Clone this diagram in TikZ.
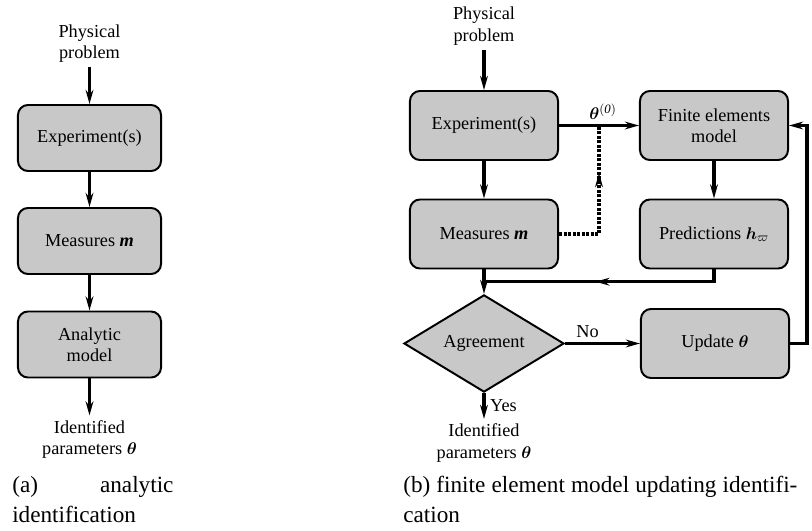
\documentclass[tikz,border=0pt]{standalone}
\usepackage{fontspec}
\setmainfont{Liberation Serif}
\usepackage{amsmath}
\usepackage{bm}
\usetikzlibrary{arrows.meta,shapes.geometric,calc,decorations.markings}
\definecolor{boxgray}{RGB}{200,200,200}

\begin{document}
\begin{tikzpicture}[x=0.025cm, y=-0.025cm,
    >={Stealth[length=10pt,width=5.5pt]},
    txt/.style={font=\fontsize{13}{15.2}\selectfont, align=center},
    block/.style={txt, draw, line width=1.4pt, fill=boxgray,
        rounded corners=0.25cm, minimum width=3.7cm, minimum height=1.725cm},
    smallblock/.style={block, minimum width=3.575cm, minimum height=1.65cm},
    decision/.style={txt, diamond, draw, line width=1.4pt, fill=boxgray,
        inner sep=0pt, minimum width=4cm, minimum height=1.675cm},
    flow/.style={->, line width=2.2pt},
    midarrow/.style={decoration={markings,
        mark=at position #1 with {\draw[solid, ->, line width=2.2pt] (-2pt,0) -- (0,0);}},
        postaction={decorate}},
    caption/.style={font=\fontsize{16.5}{21.3}\selectfont, align=justify,
        anchor=base west, inner sep=0pt}]

    % Page size of the reference
    \useasboundingbox (0,0) rectangle (812,531);

    % (a) analytic identification
    \node[txt] (aphys) at (89.5,43.5) {Physical\\problem};
    \node[smallblock] (aexp) at (89.5,138) {Experiment(s)};
    \node[smallblock] (ameas) at (89.5,241) {Measures \textbf{\textit{m}}};
    \node[smallblock] (amodel) at (89.5,344.5) {Analytic\\model};
    \node[txt] (aid) at (89.5,439.5) {Identified\\parameters $\bm{\theta}$};
    \foreach \a/\b in {aphys/aexp, aexp/ameas, ameas/amodel, amodel/aid}
        \draw[flow] (\a) -- (\b);

    % (b) finite element model updating
    \node[txt] (phys) at (484,26) {Physical\\problem};
    \node[block] (exp) at (484,125.5) {Experiment(s)};
    \node[block] (meas) at (484,234) {Measures \textbf{\textit{m}}};
    \node[block] (fem) at (714,125.5) {Finite elements\\model};
    \node[block] (pred) at (714,234) {Predictions $\bm{h}_{\varpi}$};
    \node[decision] (agr) at (484,343.5) {Agreement};
    \node[block] (upd) at (715,343.5) {Update $\bm{\theta}$};
    \node[txt] (id) at (484,443) {Identified\\parameters $\bm{\theta}$};

    \coordinate (jn) at ($(meas.south)!0.5!(agr.north)$);
    \coordinate (dj) at ($(exp.east)!0.5!(fem.west)$);

    \draw[flow] (phys) -- (exp);
    \draw[flow] (exp) -- (meas);
    \draw[flow] (exp) -- node[above, pos=0.55, font=\fontsize{13}{15}\selectfont]
        {$\bm{\theta}^{\mathit{(0)}}$} (fem);
    \draw[flow] (fem) -- (pred);
    \draw[flow] (meas) -- (agr);

    % predictions back to the comparison
    \draw[line width=2.2pt, midarrow=0.54] (pred.south) |- (jn);

    % measures may give the starting values
    \draw[line width=2.2pt, densely dotted, midarrow=0.68] (meas.east) -| (dj);

    \draw[flow] (agr) -- node[above, pos=0.3, txt] {No} (upd);
    \draw[flow] (upd.east) -- ++(17,0) |- (fem.east);
    \draw[flow] (agr) -- node[right, txt] {Yes} (id);

    % captions
    \node[caption, text width=4.03cm] (capa) at (12,493)
        {(a) analytic\linebreak identification};
    \node[caption, text width=9.85cm] (capb) at (403,493)
        {(b) finite element model updating identifi-\linebreak cation};
\end{tikzpicture}
\end{document}
